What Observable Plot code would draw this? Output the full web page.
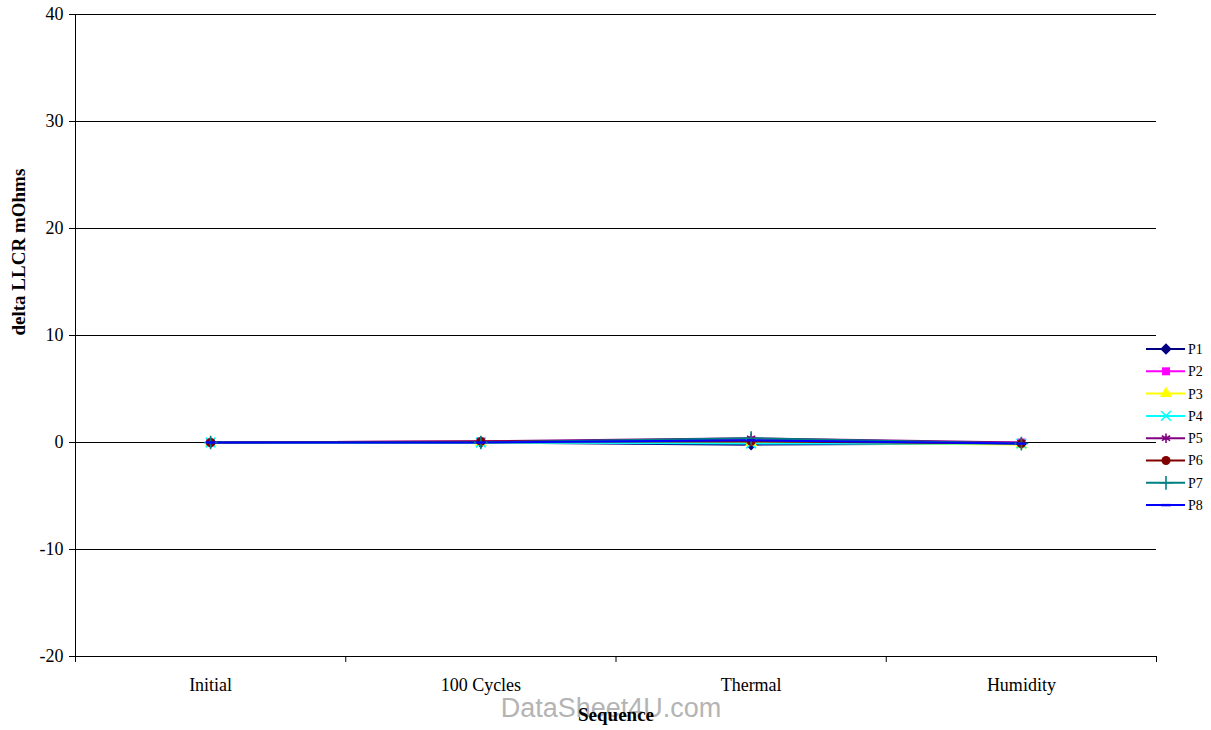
<!DOCTYPE html>
<html>
<head>
<meta charset="utf-8">
<script src="https://cdn.jsdelivr.net/npm/d3@7"></script>
<script src="https://cdn.jsdelivr.net/npm/@observablehq/plot@0.6"></script>
<style>
  body { margin: 0; background: #fff; }
  #wrap { position: relative; width: 1211px; height: 730px; }
  #legend { position: absolute; left: 1140px; top: 338px; }
</style>
</head>
<body>
<div id="wrap"><div id="chart"></div><div id="legend"></div></div>
<script>
const categories = ["Initial", "100 Cycles", "Thermal", "Humidity"];
const seriesNames = ["P1", "P2", "P3", "P4", "P5", "P6", "P7", "P8"];
const seriesColors = ["#000080", "#FF00FF", "#FFFF00", "#00FFFF", "#800080", "#800000", "#008080", "#0000FF"];
const P1 = [0, 0.0, -0.2, -0.1];
const P2 = [0, 0.1, 0.2, 0.0];
const P3 = [0, 0.0, 0.0, -0.2];
const P4 = [0, 0.0, -0.1, -0.1];
const P5 = [0, 0.1, 0.4, 0.0];
const P6 = [0, 0.1, 0.1, -0.1];
const P7 = [0, 0.0, 0.4, -0.1];
const P8 = [0, 0.0, 0.2, -0.1];
const yTicks = [-20, -10, 0, 10, 20, 30, 40];

const seriesValues = [P1, P2, P3, P4, P5, P6, P7, P8];
const data = [];
seriesNames.forEach((s, k) => seriesValues[k].forEach((v, i) => data.push({series: s, idx: i, value: v})));

const dash = {draw(ctx, size) { const w = Math.sqrt(size) * 0.6; ctx.rect(-w, -1.2, 2 * w, 2.4); }};
const rhombus = {draw(ctx, size) { const w = Math.sqrt(size) * 0.72; ctx.moveTo(0, -w); ctx.lineTo(w, 0); ctx.lineTo(0, w); ctx.lineTo(-w, 0); ctx.closePath(); }};
const symbols = [rhombus, "square", "triangle", "times", "asterisk", "circle", "plus", dash];
const filled = [true, true, true, false, false, true, false, true];

const idxTicks = categories.map((c, i) => i);
const boundaries = categories.map((c, i) => i - 0.5).concat([categories.length - 0.5]);

const serif = "'Liberation Serif', 'Times New Roman', serif";
const chart = Plot.plot({
  width: 1211,
  height: 730,
  marginLeft: 75,
  marginRight: 55,
  marginTop: 14,
  marginBottom: 74,
  style: {fontFamily: serif, background: "#fff"},
  x: {type: "linear", domain: [-0.5, categories.length - 0.5]},
  y: {domain: [-20, 40]},
  marks: [
    Plot.gridY(yTicks, {stroke: "#000", strokeOpacity: 1, strokeWidth: 1}),
    Plot.axisY(yTicks, {tickSize: 6, tickPadding: 6, fontSize: 18, label: null, stroke: "#000", tickFormat: d => String(d)}),
    Plot.axisX(idxTicks, {tickSize: 0, tickPadding: 22, fontSize: 18, tickFormat: i => categories[i], label: null}),
    Plot.axisX(boundaries, {tickSize: 6, tickFormat: () => "", label: null, stroke: "#000"}),
    Plot.ruleX([-0.5], {stroke: "#000"}),
    Plot.ruleY([-20], {stroke: "#000"}),
    ...seriesNames.map((s, k) => Plot.line(data.filter(d => d.series === s), {x: "idx", y: "value", stroke: seriesColors[k], strokeWidth: 2})),
    ...seriesNames.map((s, k) => Plot.dot(data.filter(d => d.series === s), {
      x: "idx", y: "value", symbol: () => symbols[k], r: 4.5,
      fill: filled[k] ? seriesColors[k] : "none",
      stroke: seriesColors[k], strokeWidth: filled[k] ? 0 : 1.6
    })),
    Plot.text(["DataSheet4U.com"], {frameAnchor: "bottom", dy: 60, dx: -5, fill: "#b4b4b4", fontSize: 27, fontFamily: "'Liberation Sans', Arial, sans-serif"}),
    Plot.text(["Sequence"], {frameAnchor: "bottom", dy: 64, fontWeight: "bold", fontSize: 19, fill: "#000"}),
    Plot.text(["delta LLCR mOhms"], {frameAnchor: "left", dx: -57, rotate: -90, fontWeight: "bold", fontSize: 19, fill: "#000"})
  ]
});
document.getElementById("chart").appendChild(chart);

// Legend (HTML overlay, drawn with d3)
const rowH = 22.3;
const lsvg = d3.select("#legend").append("svg").attr("width", 71).attr("height", seriesNames.length * rowH + 8)
  .style("font-family", serif);
seriesNames.forEach((s, k) => {
  const g = lsvg.append("g").attr("transform", `translate(0, ${11 + k * rowH})`);
  g.append("line").attr("x1", 6).attr("x2", 45).attr("y1", 0).attr("y2", 0).attr("stroke", seriesColors[k]).attr("stroke-width", 2);
  const symType = typeof symbols[k] === "string" ? {
    diamond: d3.symbolDiamond, square: d3.symbolSquare, triangle: d3.symbolTriangle, times: d3.symbolTimes,
    asterisk: d3.symbolAsterisk, circle: d3.symbolCircle, plus: d3.symbolPlus
  }[symbols[k]] : symbols[k];
  g.append("path").attr("transform", "translate(26,0)").attr("d", d3.symbol(symType, 64)())
    .attr("fill", filled[k] ? seriesColors[k] : "none").attr("stroke", filled[k] ? "none" : seriesColors[k]).attr("stroke-width", 1.6);
  g.append("text").attr("x", 48).attr("y", 0).attr("dy", "0.35em").attr("font-size", 14).attr("fill", "#000").text(s);
});
</script>
</body>
</html>
